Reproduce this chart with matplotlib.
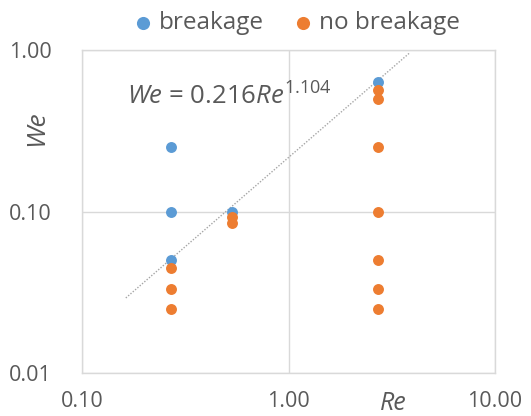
import matplotlib
matplotlib.use("Agg")
import matplotlib.pyplot as plt
import numpy as np

plt.rcParams['font.family'] = ['Open Sans', 'DejaVu Sans']
plt.rcParams['mathtext.fontset'] = 'custom'
plt.rcParams['mathtext.rm'] = 'Open Sans'
plt.rcParams['mathtext.it'] = 'Open Sans:italic'

# data
break_re = [0.27, 0.27, 0.27, 0.53, 2.7]
break_we = [0.25, 0.10, 0.05, 0.10, 0.63]
nobreak_re = [0.27, 0.27, 0.27, 0.53, 0.53, 2.7, 2.7, 2.7, 2.7, 2.7, 2.7, 2.7]
nobreak_we = [0.045, 0.033, 0.025, 0.093, 0.085, 0.565, 0.50, 0.25, 0.10, 0.05, 0.033, 0.025]
fit_a = 0.216
fit_b = 1.104
fit_range = [0.163, 3.85]
xticks = [0.1, 1, 10]
xticklabels = ["0.10", "1.00", "10.00"]
yticks = [0.01, 0.1, 1]
yticklabels = ["0.01", "0.10", "1.00"]

blue = '#5B9BD5'
orange = '#ED7D31'
gray_text = '#595959'
grid_c = '#D9D9D9'

fig = plt.figure(figsize=(5.31, 4.16), dpi=100)
ax = fig.add_axes([82/531, 1-373/416, (495-82)/531, (373-50)/416])
ax.set_xscale('log')
ax.set_yscale('log')
ax.set_xlim(0.1, 10)
ax.set_ylim(0.01, 1)

fx = np.logspace(np.log10(fit_range[0]), np.log10(fit_range[1]), 50)
ax.plot(fx, fit_a * fx ** fit_b, color='#A6A6A6', lw=1.0, ls=(0, (1, 1.2)), zorder=2)

ax.scatter(break_re, break_we, s=62, color=blue, label='breakage', zorder=3, linewidths=0)
ax.scatter(nobreak_re, nobreak_we, s=62, color=orange, label='no breakage', zorder=3, linewidths=0)

ax.set_xticks(xticks)
ax.set_xticklabels(xticklabels)
ax.set_yticks(yticks)
ax.set_yticklabels(yticklabels)
ax.minorticks_off()
ax.tick_params(axis='both', length=0, labelsize=15.5, labelcolor=gray_text)
ax.tick_params(axis='x', pad=13)
ax.tick_params(axis='y', pad=22)
ax.grid(True, color=grid_c, lw=1.0)
ax.set_axisbelow(True)
for sp in ax.spines.values():
    sp.set_color(grid_c)
    sp.set_linewidth(1.0)

fig.text(37/531, 1-128/416, 'We', rotation=90, style='italic', fontsize=19,
         color=gray_text, ha='center', va='center')
fig.text(393/531, 1-404/416, 'Re', style='italic', fontsize=18,
         color=gray_text, ha='center', va='center')
ax.text(127/531, 1-97/416, r'$\mathit{We}$ = 0.216$\mathit{Re}^{1.104}$',
        transform=fig.transFigure, fontsize=18.5, color=gray_text, ha='left', va='center')

leg = fig.legend(loc='center', bbox_to_anchor=(294/531, 1-23/416), ncol=2, frameon=False,
                 fontsize=17.5, handletextpad=0.05, columnspacing=1.0, markerscale=1.2,
                 labelcolor=gray_text, handlelength=1.2)

fig.savefig('out.png', dpi=100)
